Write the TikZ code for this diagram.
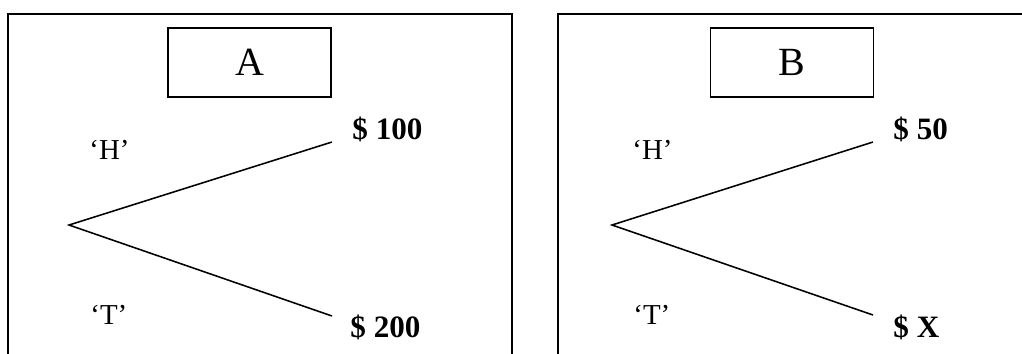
\documentclass[tikz,border=0pt]{standalone}
\usepackage{fontspec}
\setmainfont{Liberation Serif}
\tikzset{
    panel/.style={draw, line width=0.75pt},
    title/.style={draw, line width=0.75pt, minimum width=73.4pt, minimum height=31pt, inner sep=0pt, font=\fontsize{18}{20}\selectfont},
    side/.style={anchor=base west, inner sep=0pt, font=\fontsize{13}{15}\selectfont},
    prize/.style={anchor=base west, inner sep=0pt, font=\fontsize{14}{16}\selectfont\bfseries},
    branch/.style={line width=0.7pt},
}
\begin{document}
\begin{tikzpicture}[x=0.45pt, y=-0.45pt]
    \useasboundingbox (0,0) rectangle (1022,353);
    \clip (0,0) rectangle (1022,353);
    % panels
    \draw[panel] (8,14) rectangle (512,380);
    \draw[panel] (558,14) rectangle (1050,380);
    % game A
    \node[title] (boxa) at (249.5,62.5) {A};
    \node[side] (heada) at (89,159) {‘H’};
    \node[side] (taila) at (90,324) {‘T’};
    \node[prize] (wina) at (352,139) {\$ 100};
    \node[prize] (losea) at (350,337) {\$ 200};
    \coordinate (roota) at (69,225);
    \coordinate (upa) at (332,142);
    \coordinate (downa) at (332,316);
    \draw[branch] (upa) -- (roota) -- (downa);
    % game B
    \node[title] (boxb) at (792,62.5) {B};
    \node[side] (headb) at (632,159) {‘H’};
    \node[side] (tailb) at (633,324) {‘T’};
    \node[prize] (winb) at (893,139) {\$ 50};
    \node[prize] (loseb) at (893,337) {\$ X};
    \coordinate (rootb) at (612,225);
    \coordinate (upb) at (873,142);
    \coordinate (downb) at (873,315);
    \draw[branch] (upb) -- (rootb) -- (downb);
\end{tikzpicture}
\end{document}
